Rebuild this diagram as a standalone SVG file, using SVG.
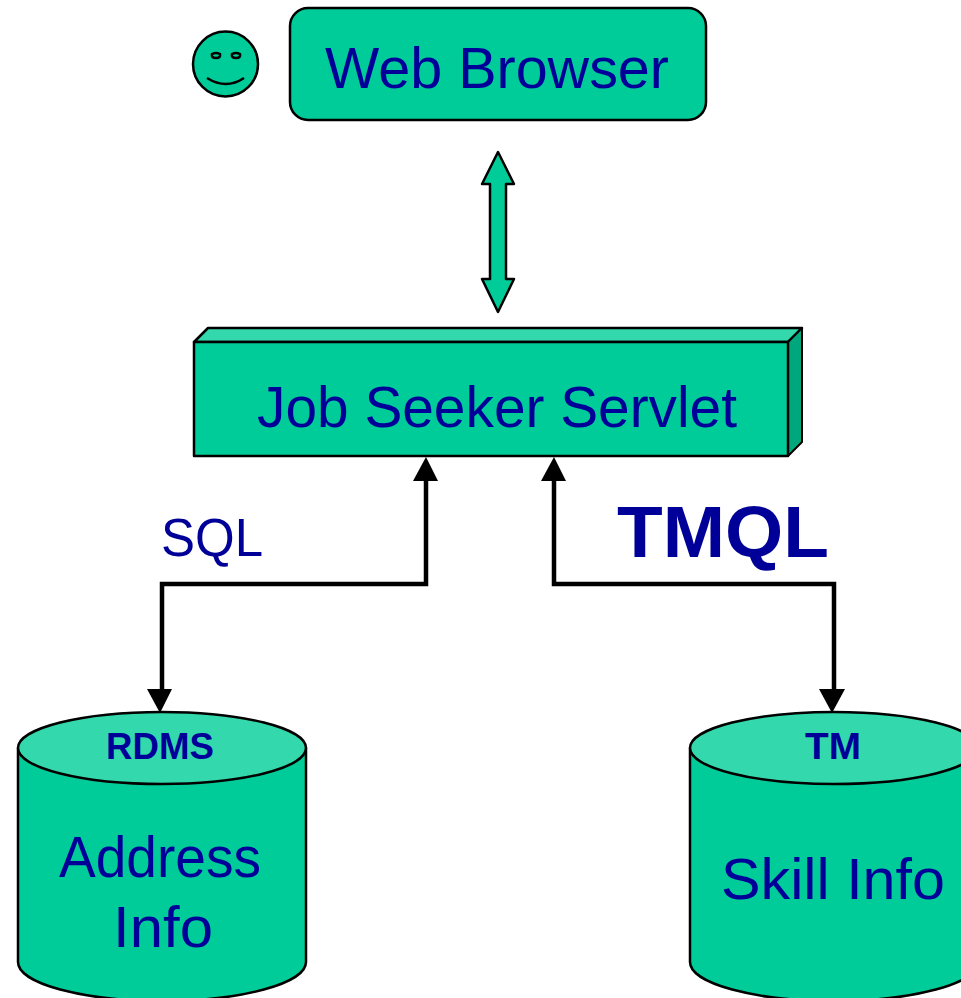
<svg xmlns="http://www.w3.org/2000/svg" width="961" height="998" viewBox="0 0 961 998">
<style>
text{font-family:"Liberation Sans",Arial,sans-serif;fill:#000099;text-anchor:middle}
.s{fill:#00cc99;stroke:#000;stroke-width:2.500;stroke-linejoin:round}
.t{fill:#33d9ad;stroke:#000;stroke-width:2.500;stroke-linejoin:round}
.d{fill:#00a67c;stroke:#000;stroke-width:2;stroke-linejoin:round}
.f{fill:none;stroke:#000;stroke-width:2.500}
.l{font-size:58px}
.b{font-weight:bold;font-size:36px}
.c{fill:none;stroke:#000;stroke-width:4.500}
.h{fill:#000}
</style>
<rect width="961" height="998" fill="#fff"/>
<g id="connectors">
<path class="c" d="M426 478V584H162V690"/>
<path class="h" d="M426 457L438 481H413Z"/>
<path class="h" d="M160 713L147 689H172Z"/>
<path class="c" d="M554 478V584H834V690"/>
<path class="h" d="M554 457L566 481H541Z"/>
<path class="h" d="M832 713L819 689H845Z"/>
<path id="double-arrow" class="s" d="M498 152L514 184H506V279H514L498 312L482 279H490V184H482Z"/>
</g>
<g id="smiley">
<circle class="s" cx="225.500" cy="64" r="32.500"/>
<path class="f" d="M212 54Q216 52 220 54Q221 58 216 58Q211 58 212 54ZM232 54Q236 52 240 54Q241 58 236 58Q231 58 232 54Z"/>
<path class="f" d="M207 78Q226 90 244 78"/>
</g>
<g id="web-browser">
<rect class="s" x="290" y="8" width="416" height="112" rx="18"/>
<text class="l" x="497" y="88" textLength="344" lengthAdjust="spacingAndGlyphs">Web Browser</text>
</g>
<g id="servlet">
<path class="t" d="M194 342L208 328H802L788 342Z"/>
<path class="d" d="M788 342L802 328V442L788 456Z"/>
<rect class="s" x="194" y="342" width="594" height="114"/>
<text class="l" x="497" y="427" textLength="480" lengthAdjust="spacingAndGlyphs">Job Seeker Servlet</text>
</g>
<g id="sql"><text x="212" y="556" font-size="54" textLength="102" lengthAdjust="spacingAndGlyphs">SQL</text></g>
<g id="tmql"><text x="723" y="557" font-size="72" font-weight="bold" textLength="212" lengthAdjust="spacingAndGlyphs">TMQL</text></g>
<g id="rdms">
<path class="s" d="M18 748V962A144 39 0 0 0 306 962V748Z"/>
<ellipse class="t" cx="162" cy="748" rx="144" ry="36"/>
<text class="b" x="160" y="759" textLength="108" lengthAdjust="spacingAndGlyphs">RDMS</text>
<text class="l" x="160" y="877" textLength="202" lengthAdjust="spacingAndGlyphs">Address</text>
<text class="l" x="163" y="947" textLength="100" lengthAdjust="spacingAndGlyphs">Info</text>
</g>
<g id="tm">
<path class="s" d="M690 748V962A144 39 0 0 0 978 962V748Z"/>
<ellipse class="t" cx="834" cy="748" rx="144" ry="36"/>
<text class="b" x="833" y="759" textLength="56" lengthAdjust="spacingAndGlyphs">TM</text>
<text class="l" x="833" y="899" textLength="224" lengthAdjust="spacingAndGlyphs">Skill Info</text>
</g>
</svg>
